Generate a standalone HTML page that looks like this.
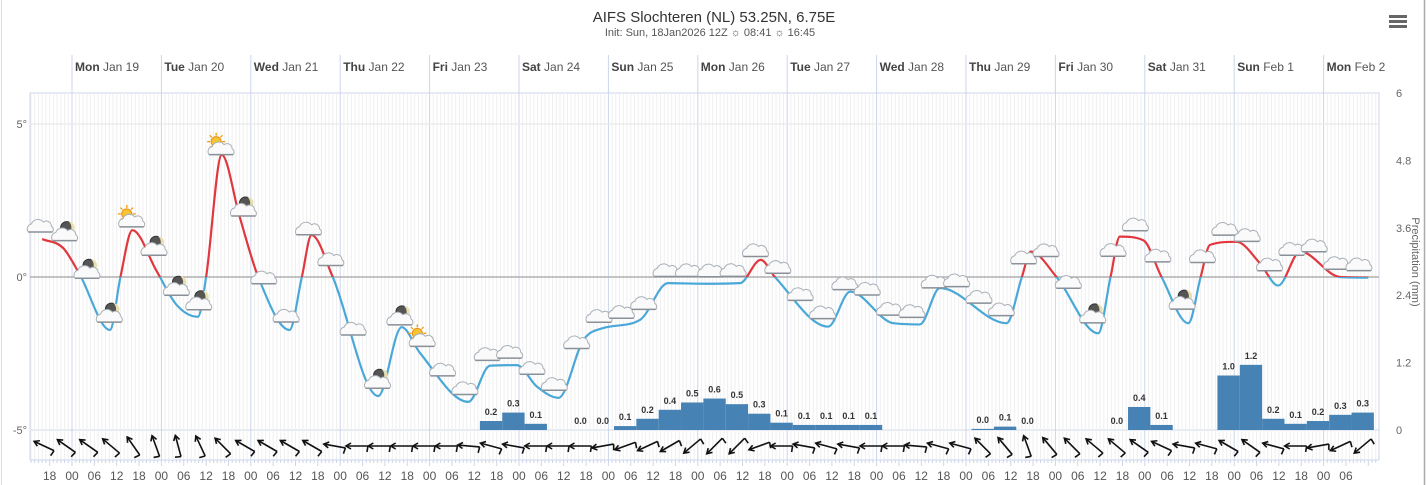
<!DOCTYPE html>
<html><head><meta charset="utf-8"><style>
html,body{margin:0;padding:0;background:#fff;}
svg{display:block;font-family:"Liberation Sans",sans-serif;}
</style></head><body>
<svg id="chart" width="1428" height="485" viewBox="0 0 1428 485" xmlns="http://www.w3.org/2000/svg">
<text x="714" y="22" text-anchor="middle" font-size="15" fill="#333">AIFS Slochteren (NL) 53.25N, 6.75E</text>
<text x="710" y="36" text-anchor="middle" font-size="11" fill="#555">Init: Sun, 18Jan2026 12Z ☼ 08:41 ☼ 16:45</text>
<g><rect x="1389" y="15" width="18" height="3" fill="#666"/><rect x="1389" y="20" width="18" height="3" fill="#666"/><rect x="1389" y="25" width="18" height="3" fill="#666"/></g>
<line x1="1424.5" y1="0" x2="1424.5" y2="485" stroke="#aaa" stroke-width="1.5"/>
<line x1="1.5" y1="0" x2="1.5" y2="485" stroke="#ddd"/>
<g id="grid"></g><g id="bars"></g><g id="temp"></g><g id="icons"></g><g id="wind"></g><g id="axes"></g>
</svg>
<script>
// ---- data ----
const tempHours=[4,9.6,14,22.2,25,28.2,34.7,40,45.8,48,52.2,57,62,70.4,73.7,76.3,82,94.2,100.5,105.4,118.4,124.2,131.4,136.8,142.6,149.3,154.6,164.5,172,181.5,191.3,196.9,200.7,215,220.9,232.5,239.6,245,262.9,267,269.4,276.3,287.5,290.8,293.3,299.6,304.5,311.7,315,317.5,324.6,330.9,335.8,341.7,352.4,360];
const tempValues=[1.24,0.95,0.1,-1.73,0,1.53,0.2,-0.9,-1.3,0,3.99,1.97,0,-1.73,0,1.37,0,-3.89,-1.64,-2.48,-4.08,-2.9,-2.88,-3.58,-3.95,-2.06,-1.67,-1.4,-0.2,-0.22,-0.2,0.56,0,-1.62,-0.48,-1.51,-1.55,-0.36,-1.51,0,0.83,0,-1.84,0,1.32,1.2,0,-1.51,0,1.05,1.15,0.45,-0.28,0.83,0,-0.02];
const precipStart=[120,126,132,144,150,156,162,168,174,180,186,192,198,204,210,216,222,252,258,264,288,294,300,318,324,330,336,342,348,354];
const precipValues=[0.16,0.31,0.11,0,0,0.07,0.2,0.36,0.49,0.56,0.46,0.29,0.13,0.09,0.09,0.09,0.09,0.02,0.06,0,0,0.41,0.09,0.97,1.16,0.2,0.11,0.16,0.27,0.31];
const windAngles=[25,35,35,40,55,70,75,65,45,30,30,30,30,10,0,0,0,0,0,5,15,10,0,0,0,-10,-20,-25,-30,-40,-45,-45,-20,0,10,15,10,0,0,5,15,15,45,50,70,50,45,40,40,35,25,10,15,30,35,15,0,-10,-25,-40];
const iconTypes="cmmmsmmmsmcccccmmscccccccccccccccccccccccccccccmcccmcccccccc".split("");
const tempTicks=[5,0,-5];
const tempTickLabels=["5°","0°","-5°"];
const precipTicks=[6,4.8,3.6,2.4,1.2,0];
const precipTickLabels=["6","4.8","3.6","2.4","1.2","0"];
const dayNames=["Mon","Tue","Wed","Thu","Fri","Sat","Sun","Mon","Tue","Wed","Thu","Fri","Sat","Sun","Mon"];
const dayDates=["Jan 19","Jan 20","Jan 21","Jan 22","Jan 23","Jan 24","Jan 25","Jan 26","Jan 27","Jan 28","Jan 29","Jan 30","Jan 31","Feb 1","Feb 2"];
// ---- scales ----
const L=30,R=1379,T=93,B=430;
const xs=h=>27.3+h*3.725;           // hours since Jan 18 12Z
const yT=t=>277-t*30.6;
const yP=p=>430-p*56.17;
const NS="http://www.w3.org/2000/svg";
function mk(tag,attrs,parent){const e=document.createElementNS(NS,tag);for(const k in attrs)e.setAttribute(k,attrs[k]);parent.appendChild(e);return e;}
const grid=document.getElementById('grid'),bars=document.getElementById('bars'),temp=document.getElementById('temp'),icons=document.getElementById('icons'),wind=document.getElementById('wind'),axes=document.getElementById('axes');
// grid
mk('rect',{x:L,y:T,width:R-L,height:B-T,fill:'none',stroke:'#ccd6eb'},grid);
for(let h=0;h<=370;h++){const x=xs(h);if(x<=L||x>=R)continue;
 if(h%24===12){const l=mk('line',{x1:x,y1:55,x2:x,y2:460,stroke:'#ccd6eb'},grid);}
 else mk('line',{x1:x,y1:T,x2:x,y2:460,stroke:'#efefef','stroke-width':1},grid);
 mk('line',{x1:x,y1:460,x2:x,y2:h%6===0?466:463,stroke:'#ccd6eb'},grid);}
mk('line',{x1:L,y1:yT(5),x2:R,y2:yT(5),stroke:'#e6e6e6'},grid);
mk('line',{x1:L,y1:460,x2:R,y2:460,stroke:'#ccd6eb'},grid);
mk('line',{x1:L,y1:B,x2:L,y2:460,stroke:'#ccd6eb'},grid);
mk('line',{x1:R,y1:B,x2:R,y2:460,stroke:'#ccd6eb'},grid);
// bars
precipStart.forEach((s,i)=>{const v=precipValues[i];const x0=xs(s+1.5),x1=xs(s+7.5);
 const r=mk('rect',{x:x0,y:yP(v),width:x1-x0,height:B-yP(v),fill:'#4682b4'},bars);
 
 const t=mk('text',{x:(x0+x1)/2,y:yP(v)-6,'text-anchor':'middle','font-size':9,'font-weight':'bold',fill:'#333'},bars);
 
 t.textContent=v.toFixed(1);});
// temperature monotone cubic
const X=tempHours.map(xs),Y=tempValues.map(yT),n=X.length;
const d=[],m=[];for(let i=0;i<n-1;i++)d.push((Y[i+1]-Y[i])/(X[i+1]-X[i]));
for(let i=0;i<n;i++){if(i===0)m.push(d[0]);else if(i===n-1)m.push(d[n-2]);else m.push(d[i-1]*d[i]<=0?0:(d[i-1]+d[i])/2);}
for(let i=0;i<n-1;i++){if(d[i]===0){m[i]=m[i+1]=0;continue;}const a=m[i]/d[i],b=m[i+1]/d[i],s=a*a+b*b;if(s>9){const t=3/Math.sqrt(s);m[i]=t*a*d[i];m[i+1]=t*b*d[i];}}
let p=`M${X[0]},${Y[0]}`;for(let i=0;i<n-1;i++){const h=(X[i+1]-X[i])/3;p+=` C${X[i]+h},${Y[i]+m[i]*h} ${X[i+1]-h},${Y[i+1]-m[i+1]*h} ${X[i+1]},${Y[i+1]}`;}
function curveY(x){for(let i=0;i<n-1;i++){if(x>=X[i]&&x<=X[i+1]){const hh=X[i+1]-X[i],t=(x-X[i])/hh;const h00=2*t*t*t-3*t*t+1,h10=t*t*t-2*t*t+t,h01=-2*t*t*t+3*t*t,h11=t*t*t-t*t;return h00*Y[i]+h10*hh*m[i]+h01*Y[i+1]+h11*hh*m[i+1];}}return x<X[0]?Y[0]:Y[n-1];}
const defs=mk('defs',{},temp);
const c1=mk('clipPath',{id:'above'},defs);mk('rect',{x:0,y:0,width:1428,height:yT(0)},c1);
const c2=mk('clipPath',{id:'below'},defs);mk('rect',{x:0,y:yT(0),width:1428,height:300},c2);
mk('line',{x1:L,y1:yT(0),x2:R,y2:yT(0),stroke:'#b0b0b0','stroke-width':1.5},temp);
const pr=mk('path',{d:p,fill:'none',stroke:'#e0383e','stroke-width':2.2,'clip-path':'url(#above)'},temp);

const pb=mk('path',{d:p,fill:'none',stroke:'#4aa8d8','stroke-width':2.2,'clip-path':'url(#below)'},temp);

// icons
function cloud(g,cx,cy){mk('path',{d:`M${cx-12},${cy+5} a5,5 0 0 1 3,-8 a7,7 0 0 1 12,-2 a5,5 0 0 1 8,4 a4,4 0 0 1 1,6 z`,fill:'#fafafa',stroke:'#a9b0b8','stroke-width':1},g);mk('line',{x1:cx-12,y1:cy+5,x2:cx+12,y2:cy+5,stroke:'#8a9098','stroke-width':1.5},g);}
iconTypes.forEach((ty,i)=>{const x=xs(6*i+3.5);if(x>R-5)return;const y=curveY(Math.max(x,X[0]))-14;
 const g=mk('g',{},icons);
 if(ty==='m'){mk('circle',{cx:x+4,cy:y-6,r:6,fill:'#555',stroke:'#333'},g);mk('path',{d:`M${x+6},${y-12} a6,6 0 0 1 0,12 a8,8 0 0 0 0,-12z`,fill:'#e8e0b0'},g);}
 if(ty==='s'){const sx=x-3,sy=y-6;for(let k=0;k<8;k++){const a=k*Math.PI/4;mk('line',{x1:sx+Math.cos(a)*6,y1:sy+Math.sin(a)*6,x2:sx+Math.cos(a)*9,y2:sy+Math.sin(a)*9,stroke:'#f39c12','stroke-width':1.3},g);}mk('circle',{cx:sx,cy:sy,r:5,fill:'#f7c531',stroke:'#e8901a'},g);}
 cloud(g,x+(ty==='c'?0:2),y+2);});
// wind arrows
windAngles.forEach((a,i)=>{const cx=xs(6*i+4.5),cy=446;const r=a*Math.PI/180;const dx=-Math.cos(r),dy=-Math.sin(r);const len=11;
 const hx=cx+dx*len,hy=cy+dy*len,tx=cx-dx*len,ty=cy-dy*len;
 const g=mk('g',{stroke:'#111','stroke-width':1.6,fill:'none'},wind);
 mk('line',{x1:tx,y1:ty,x2:hx,y2:hy},g);
 const px=-dy,py=dx;
 mk('path',{d:`M${hx-dx*5+px*3},${hy-dy*5+py*3} L${hx},${hy} L${hx-dx*5-px*3},${hy-dy*5-py*3}`},g);
 mk('line',{x1:tx,y1:ty,x2:tx-px*6+dx*1,y2:ty-py*6+dy*1},g);});
// axes labels
tempTicks.forEach((t,i)=>{const e=mk('text',{x:27,y:yT(t)+4,'text-anchor':'end','font-size':11,fill:'#666'},axes);e.textContent=tempTickLabels[i];});
precipTicks.forEach((t,i)=>{const e=mk('text',{x:1396,y:yP(t)+4,'font-size':11,fill:'#666'},axes);e.textContent=precipTickLabels[i];});
const pt=mk('text',{x:0,y:0,transform:'translate(1412,262) rotate(90)','text-anchor':'middle','font-size':11,fill:'#666'},axes);
pt.textContent='Precipitation (mm)';
dayNames.forEach((dn,i)=>{const x=xs(12+24*i)+3;const e=mk('text',{x:x,y:71,'font-size':12,fill:'#555'},axes);
 
 const b=mk('tspan',{'font-weight':'bold',fill:'#444'},e);b.textContent=dn+' ';const s=mk('tspan',{},e);s.textContent=dayDates[i];});
for(let h=6;h<=354;h+=6){const x=xs(h);const e=mk('text',{x:x,y:480,'text-anchor':'middle','font-size':12,fill:'#555'},axes);
 
 e.textContent=String((12+h)%24).padStart(2,'0');}
</script>
</body></html>
